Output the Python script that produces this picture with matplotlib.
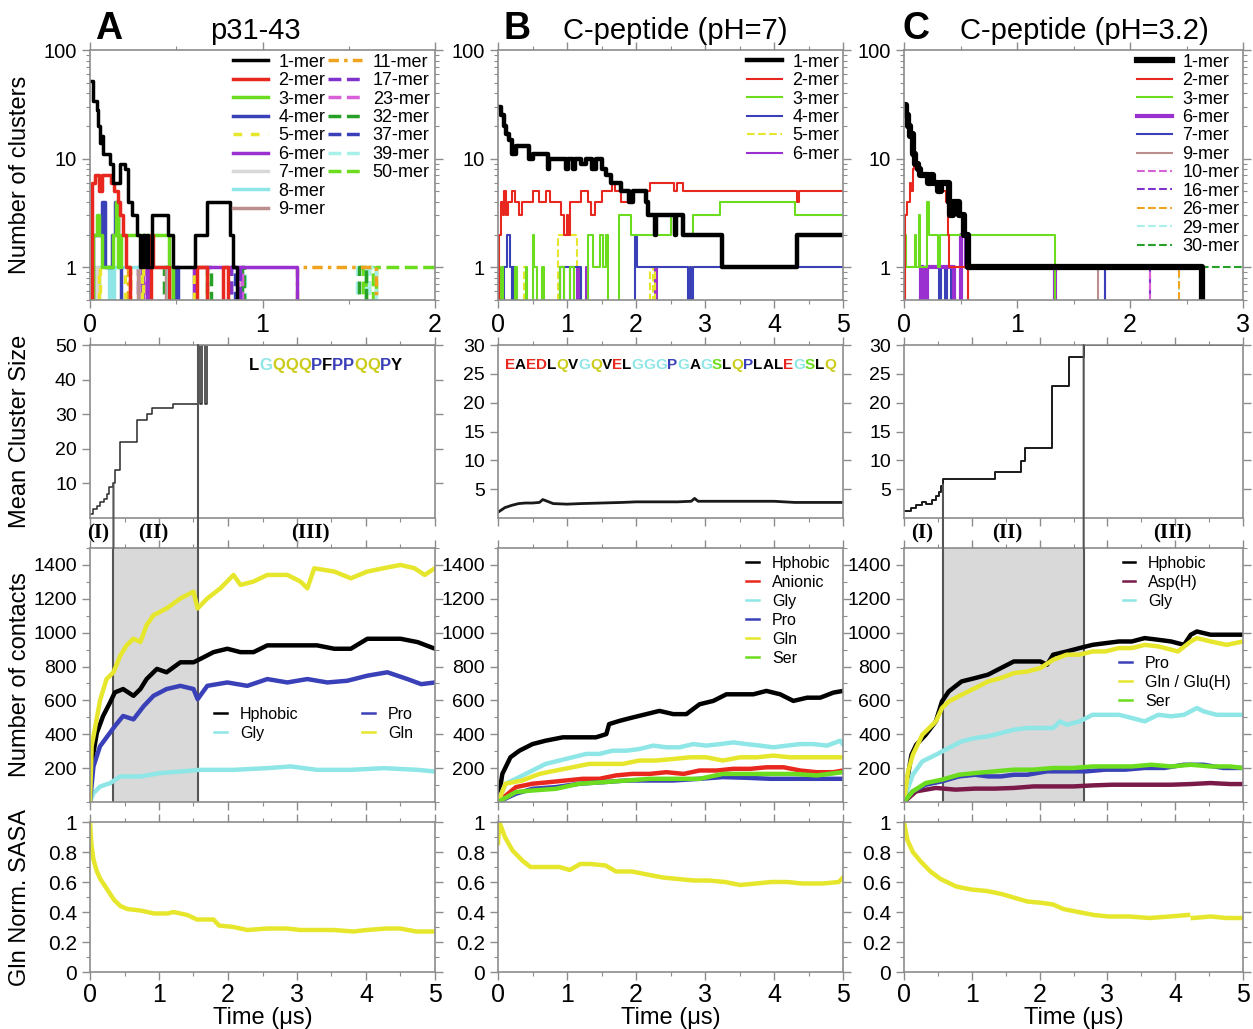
import numpy as np
import matplotlib
matplotlib.use('Agg')
import matplotlib.pyplot as plt
from matplotlib.ticker import MultipleLocator, FuncFormatter, NullFormatter
from matplotlib.patches import ConnectionPatch
from matplotlib.lines import Line2D
from matplotlib.offsetbox import TextArea, HPacker, AnchoredOffsetbox
from matplotlib.transforms import blended_transform_factory

plt.rcParams['font.family'] = ['Liberation Sans', 'DejaVu Sans']
plt.rcParams['axes.linewidth'] = 1.2
plt.rcParams['axes.edgecolor'] = '#8c8c8c'

# colours
K = 'black'
RED = '#e8281e'
GRN = '#6cdc1e'
BLU = '#3a40b8'
YEL = '#e6e62c'
PUR = '#9b30d0'
LGR = '#d8d8d8'
CYN = '#8fe6e6'
BRN = '#bc8f8f'
ORG = '#f0a31e'
PUR2 = '#7f33cc'
MAG = '#d860d8'
DGR = '#26a026'
CYN2 = '#a8f0ea'
MAR = '#7a1a48'
SEQ_YEL = '#cccc1c'
EDGE = '#8c8c8c'
BND = '#555555'

# ---------------- row 1 : number of clusters (step data, time in us) ----------------
# p31-43
A1_t = [0, 0.019, 0.039, 0.048, 0.058, 0.068, 0.077, 0.097, 0.116, 0.135, 0.164, 0.174, 0.203, 0.222, 0.242, 0.271,
        0.29, 0.309, 0.319, 0.329, 0.338, 0.357, 0.444, 0.454, 0.483, 0.599, 0.609, 0.676, 0.792, 0.812, 0.831, 0.85]
A1_v = [52, 34, 28, 20, 14, 16, 11, 11, 9, 6, 6, 9, 8, 4, 3, 2, 1, 2, 1, 2, 1, 3, 3, 2, 1, 1, 2, 4, 4, 2, 1, 0]
A2_t = [0, 0.01, 0.03, 0.05, 0.07, 0.1, 0.12, 0.14, 0.16, 0.175, 0.19, 0.21, 0.23, 0.355, 0.365, 0.44, 0.46, 0.62, 0.676, 0.77, 0.80]
A2_v = [0, 6, 7, 5, 7, 7, 6, 5, 4, 3, 2, 1, 0, 2, 1, 1, 0, 1, 0, 1, 0]
A3_t = [0, 0.02, 0.04, 0.055, 0.07, 0.12, 0.135, 0.15, 0.165, 0.18, 0.45, 0.46, 0.48]
A3_v = [0, 2, 3, 2, 1, 1, 2, 4, 1, 2, 2, 1, 0]
A4_t = [0, 0.02, 0.06, 0.07, 0.085, 0.13, 0.145, 0.16, 0.17, 0.18, 0.5, 0.51]
A4_v = [0, 2, 2, 4, 1, 2, 4, 2, 1, 0, 1, 0]
A5_t = [0, 0.05, 0.06, 0.2, 0.23, 0.3, 0.31, 0.46, 0.48, 0.6, 0.68]
A5_v = [0, 1, 0, 1, 0, 1, 0, 1, 0, 1, 0]
A6_t = [0, 0.3, 0.31, 0.33, 0.345, 0.6, 1.2]
A6_v = [0, 1, 0, 1, 0, 1, 0]
A7_t = [0, 0.03, 0.04, 0.47, 0.6]
A7_v = [0, 1, 0, 1, 0]
A8_t = [0, 0.04, 0.05, 0.11, 0.13, 0.14, 0.45]
A8_v = [0, 1, 0, 1, 0, 1, 0]
A9_t = [0, 0.28, 0.3, 0.44, 0.46]
A9_v = [0, 1, 0, 1, 0]
A11_t = [0, 0.22, 0.23, 1.2, 1.66]
A11_v = [0, 1, 0, 1, 0]
A17_t = [0, 0.28, 0.3, 0.82, 0.87]
A17_v = [0, 1, 0, 1, 0]
A23_t = [0, 0.32, 0.34, 0.86, 0.88]
A23_v = [0, 1, 0, 1, 0]
A32_t = [0, 0.43, 0.45, 0.68, 0.7, 0.88, 0.89, 1.56, 1.6]
A32_v = [0, 1, 0, 1, 0, 1, 0, 1, 0]
A37_t = [0, 0.45, 0.47, 0.82, 0.84]
A37_v = [0, 1, 0, 1, 0]
A39_t = [0, 0.88, 0.9, 1.55, 1.6, 1.62, 1.66]
A39_v = [0, 1, 0, 1, 0, 1, 0]
A50_t = [0, 1.58, 1.6, 1.62, 1.64, 1.66, 5.0]
A50_v = [0, 1, 0, 1, 0, 1, 1]

# C-peptide pH 7
B1_t = [0, 0.05, 0.087, 0.12, 0.16, 0.21, 0.26, 0.45, 0.5, 0.72, 0.74, 0.98, 1.02, 1.08, 1.12, 1.2, 1.28, 1.36, 1.42,
        1.5, 1.57, 1.64, 1.78, 1.9, 1.95, 2.15, 2.18, 2.27, 2.29, 2.56, 2.58, 2.68, 3.24, 4.33, 5.0]
B1_v = [30, 25, 20, 17, 15, 11, 13, 10, 11, 8, 10, 8, 10, 8, 10, 9, 10, 8, 10, 8, 7, 6, 5, 4, 5, 4, 3, 2, 3, 2, 3, 2, 1, 2, 2]
B2_t = [0, 0.02, 0.04, 0.07, 0.09, 0.12, 0.15, 0.2, 0.24, 0.3, 0.35, 0.5, 0.6, 0.7, 0.75, 0.92, 0.95, 1.0, 1.02, 1.05,
        1.2, 1.3, 1.35, 1.4, 1.5, 1.65, 1.7, 1.78, 1.95, 2.2, 2.55, 2.6, 2.68, 4.33, 4.36, 5.0]
B2_v = [0, 2, 4, 3, 5, 3, 4, 5, 4, 3, 4, 5, 4, 5, 4, 3, 2, 3, 2, 4, 5, 4, 3, 4, 5, 6, 5, 4, 5, 6, 5, 6, 5, 4, 5, 5]
B3_t = [0, 0.05, 0.07, 0.25, 0.27, 0.4, 0.42, 0.5, 0.52, 0.56, 0.64, 0.66, 0.9, 0.96, 1.05, 1.1, 1.3, 1.38, 1.48, 1.52,
        1.56, 1.6, 1.75, 1.93, 2.5, 2.55, 2.6, 2.7, 2.83, 3.22, 4.31, 5.0]
B3_v = [0, 1, 0, 1, 0, 1, 0, 2, 1, 0, 1, 0, 1, 0, 1, 0, 2, 1, 2, 1, 2, 0, 3, 2, 3, 2, 3, 2, 3, 4, 3, 3]
B4_t = [0, 0.08, 0.13, 0.18, 0.2, 0.22, 0.24, 0.9, 1.2, 1.98, 2.02, 2.2, 2.75, 2.78, 2.8, 2.83, 5.0]
B4_v = [0, 1, 2, 1, 0, 1, 0, 1, 0, 2, 1, 1, 0, 1, 0, 1, 1]
B5_t = [0, 0.38, 0.4, 0.87, 1.15, 1.2, 2.2, 2.24, 2.28, 5.0]
B5_v = [0, 1, 0, 2, 1, 0, 1, 0, 1, 1]
B6_t = [0, 0.2, 0.22, 0.9, 0.95, 1.05, 1.1, 1.15, 1.17, 1.27, 1.3, 2.27, 2.3]
B6_v = [0, 1, 0, 1, 0, 1, 0, 1, 0, 1, 0, 1, 0]

# C-peptide pH 3.2
C1_t = [0, 0.02, 0.035, 0.05, 0.065, 0.08, 0.093, 0.12, 0.14, 0.21, 0.24, 0.26, 0.3, 0.33, 0.4, 0.41, 0.43, 0.485, 0.53, 0.57, 2.64]
C1_v = [31, 25, 20, 16, 17, 11, 9, 8, 7, 6, 7, 6, 5, 6, 4, 3, 4, 3, 2, 1, 0]
C2_t = [0, 0.01, 0.03, 0.05, 0.065, 0.08, 0.09, 0.12, 0.14, 0.21, 0.24, 0.26, 0.3, 0.37, 0.39, 0.4, 0.57]
C2_v = [0, 3, 4, 6, 5, 8, 9, 8, 7, 6, 7, 6, 5, 4, 2, 1, 0]
C3_t = [0, 0.01, 0.02, 0.1, 0.11, 0.13, 0.145, 0.2, 0.22, 0.3, 0.32, 1.34]
C3_v = [0, 2, 1, 2, 1, 3, 1, 4, 2, 1, 2, 0]
C6_t = [0, 0.15, 0.17, 0.2, 0.44, 0.5, 0.55, 1.34]
C6_v = [0, 1, 0, 1, 0, 2, 1, 0]
C7_t = [0, 0.31, 0.33, 0.36, 0.38, 0.42, 0.44, 0.5, 0.56, 1.78]
C7_v = [0, 1, 0, 1, 0, 1, 0, 2, 1, 0]
C9_t = [0, 1.34, 1.72]
C9_v = [0, 1, 0]
C10_t = [0, 0.57, 2.18]
C10_v = [0, 1, 0]
C16_t = [0, 1.78, 2.18]
C16_v = [0, 1, 0]
C26_t = [0, 2.18, 2.43]
C26_v = [0, 1, 0]
C29_t = [0, 2.43, 2.64]
C29_v = [0, 1, 0]
C30_t = [0, 2.64, 5.0]
C30_v = [0, 1, 1]

# ---------------- row 2 : mean cluster size ----------------
A_mcs_t = [0, 0.05, 0.1, 0.15, 0.2, 0.25, 0.28, 0.33, 0.36, 0.44, 0.68, 0.82, 0.9, 1.21, 1.565, 1.6, 1.63, 1.665, 1.69, 5.0]
A_mcs = [1.2, 2.5, 3.5, 4.5, 5.5, 7, 9, 10, 13.8, 22, 28.3, 30, 31.8, 33, 50, 33, 50, 33, 50, 50]
B_mcs_t = [0, 0.1, 0.2, 0.3, 0.4, 0.5, 0.6, 0.65, 0.8, 1.0, 1.2, 1.5, 1.8, 2.0, 2.3, 2.6, 2.8, 2.85, 2.9, 3.2, 3.5, 4.0, 4.3, 4.5, 5.0]
B_mcs = [1, 1.8, 2.2, 2.5, 2.6, 2.6, 2.7, 3.2, 2.5, 2.4, 2.5, 2.6, 2.7, 2.8, 2.8, 2.8, 2.9, 3.4, 2.9, 2.9, 2.9, 2.9, 2.7, 2.7, 2.7]
C_mcs_t = [0, 0.1, 0.18, 0.27, 0.32, 0.42, 0.47, 0.52, 0.55, 0.575, 1.34, 1.73, 1.78, 2.18, 2.43, 2.65, 5.0]
C_mcs = [1.2, 1.7, 2.2, 2.8, 2.5, 3.2, 3.8, 4.5, 5.5, 6.8, 8, 9.8, 12.2, 22.9, 28, 30, 30]

# phase boundaries (us) and the mean cluster size where the boundary line starts
A_phase = [0.34, 1.565]
A_phase_top = [10, 50]
C_phase = [0.575, 2.65]
C_phase_top = [5.8, 30]

# ---------------- row 3 : number of contacts ----------------
A_gln_t = [0, 0.024, 0.07, 0.145, 0.24, 0.34, 0.44, 0.53, 0.63, 0.73, 0.82, 0.92, 1.11, 1.31, 1.5, 1.56, 1.7, 1.89, 2.08,
           2.18, 2.37, 2.57, 2.86, 3.05, 3.15, 3.25, 3.54, 3.78, 4.02, 4.26, 4.5, 4.7, 4.85, 5.0]
A_gln = [0, 330, 430, 600, 726, 766, 865, 925, 964, 945, 1044, 1103, 1143, 1202, 1242, 1143, 1202, 1262, 1341,
         1282, 1302, 1341, 1341, 1302, 1262, 1380, 1361, 1321, 1361, 1381, 1400, 1381, 1341, 1381]
A_hp_t = [0, 0.024, 0.1, 0.19, 0.29, 0.36, 0.48, 0.63, 0.73, 0.82, 0.97, 1.11, 1.31, 1.5, 1.6, 1.79, 1.99, 2.18, 2.37,
          2.57, 2.81, 3.05, 3.29, 3.54, 3.78, 4.02, 4.26, 4.5, 4.75, 5.0]
A_hp = [0, 230, 409, 508, 587, 647, 667, 627, 667, 726, 786, 766, 825, 825, 845, 885, 905, 885, 885,
        925, 925, 925, 925, 905, 905, 964, 964, 964, 944, 905]
A_pro_t = [0, 0.05, 0.145, 0.29, 0.36, 0.48, 0.63, 0.78, 0.92, 1.11, 1.31, 1.5, 1.56, 1.7, 1.99, 2.28, 2.57, 2.86, 3.15,
           3.44, 3.73, 4.02, 4.31, 4.6, 4.8, 5.0]
A_pro = [0, 210, 329, 409, 448, 508, 488, 567, 627, 667, 686, 667, 607, 686, 706, 686, 726, 706, 726,
         706, 716, 746, 766, 726, 696, 706]
A_gly_t = [0, 0.05, 0.145, 0.29, 0.44, 0.73, 1.02, 1.31, 1.6, 2.08, 2.57, 2.91, 3.29, 3.78, 4.26, 4.75, 5.0]
A_gly = [0, 52, 91, 111, 151, 151, 171, 180, 190, 190, 200, 210, 190, 190, 200, 190, 180]

B_hp_t = [0, 0.063, 0.11, 0.18, 0.31, 0.5, 0.69, 0.94, 1.18, 1.42, 1.57, 1.61, 1.76, 1.95, 2.15, 2.34, 2.54, 2.73, 2.92,
          3.12, 3.31, 3.51, 3.7, 3.89, 4.09, 4.28, 4.48, 4.67, 4.86, 5.0]
B_hp = [0, 166, 205, 264, 303, 342, 362, 382, 382, 382, 401, 460, 479, 499, 519, 538, 519, 519, 577,
        597, 636, 636, 636, 656, 636, 597, 616, 616, 646, 656]
B_gly_t = [0, 0.11, 0.31, 0.5, 0.69, 0.89, 1.08, 1.28, 1.47, 1.66, 1.86, 2.05, 2.25, 2.44, 2.63, 2.83, 3.02, 3.22, 3.41,
           3.6, 3.8, 3.99, 4.19, 4.38, 4.57, 4.77, 4.96, 5.0]
B_gly = [0, 108, 147, 186, 225, 245, 264, 284, 284, 303, 303, 313, 333, 323, 323, 342, 333, 342, 352,
         342, 333, 323, 333, 342, 342, 333, 362, 340]
B_gln_t = [0, 0.11, 0.35, 0.6, 0.84, 1.08, 1.32, 1.57, 1.81, 2.05, 2.29, 2.54, 2.78, 3.02, 3.26, 3.51, 3.75, 3.99, 4.23,
           4.48, 4.72, 5.0]
B_gln = [0, 108, 127, 166, 186, 205, 225, 225, 225, 245, 245, 254, 264, 264, 245, 264, 264, 274, 264, 264, 264, 264]
B_ani_t = [0, 0.26, 0.5, 0.74, 0.98, 1.23, 1.47, 1.71, 1.95, 2.2, 2.44, 2.69, 2.92, 3.17, 3.41, 3.66, 3.89, 4.14, 4.38,
           4.62, 4.86, 5.0]
B_ani = [0, 88, 108, 117, 127, 137, 137, 157, 166, 166, 176, 166, 186, 186, 196, 196, 205, 205, 186, 176, 176, 186]
B_pro_t = [0, 0.26, 0.5, 0.84, 1.18, 1.52, 1.86, 2.2, 2.54, 2.92, 3.26, 3.6, 3.94, 4.28, 4.62, 5.0]
B_pro = [0, 49, 78, 88, 108, 117, 127, 127, 127, 137, 147, 143, 137, 137, 137, 137]
B_ser_t = [0, 0.26, 0.5, 0.84, 1.18, 1.52, 1.86, 2.2, 2.54, 2.92, 3.26, 3.6, 3.94, 4.28, 4.62, 5.0]
B_ser = [0, 59, 68, 78, 108, 117, 127, 137, 137, 137, 166, 166, 166, 166, 157, 176]

C_hp_t = [0, 0.06, 0.11, 0.18, 0.32, 0.47, 0.56, 0.66, 0.85, 1.05, 1.24, 1.43, 1.62, 1.82, 2.01, 2.11, 2.2, 2.4, 2.59,
          2.78, 2.97, 3.17, 3.36, 3.55, 3.75, 3.94, 4.13, 4.23, 4.32, 4.52, 4.71, 5.0]
C_hp = [0, 161, 279, 338, 397, 476, 594, 653, 712, 732, 752, 791, 830, 830, 830, 811, 870, 889, 909,
        928, 938, 948, 948, 968, 958, 948, 928, 988, 1007, 988, 988, 988]
C_gln_t = [0, 0.06, 0.13, 0.27, 0.47, 0.56, 0.66, 0.85, 1.05, 1.24, 1.43, 1.62, 1.82, 2.01, 2.2, 2.4, 2.59, 2.78, 2.97,
           3.17, 3.36, 3.55, 3.75, 4.04, 4.23, 4.32, 4.52, 4.76, 5.0]
C_gln = [0, 181, 279, 397, 476, 555, 594, 633, 673, 712, 732, 761, 771, 791, 840, 870, 870, 889, 889,
         909, 909, 928, 919, 889, 948, 968, 948, 928, 948]
C_gly_t = [0, 0.06, 0.13, 0.27, 0.47, 0.66, 0.85, 1.05, 1.24, 1.43, 1.62, 1.82, 2.01, 2.2, 2.3, 2.4, 2.59, 2.78, 2.97,
           3.17, 3.36, 3.55, 3.75, 3.94, 4.13, 4.32, 4.42, 4.61, 4.81, 5.0]
C_gly = [0, 83, 161, 240, 279, 319, 358, 378, 388, 407, 427, 437, 437, 437, 476, 456, 476, 515, 515,
         515, 496, 476, 515, 506, 515, 555, 535, 515, 515, 515]
C_pro_t = [0, 0.13, 0.32, 0.56, 0.81, 1.05, 1.24, 1.43, 1.62, 1.82, 2.11, 2.4, 2.69, 2.97, 3.26, 3.55, 3.84, 4.13, 4.42, 4.71, 5.0]
C_pro = [0, 63, 102, 122, 151, 161, 151, 151, 161, 161, 181, 181, 181, 191, 191, 201, 201, 220, 220, 201, 201]
C_ser_t = [0, 0.13, 0.32, 0.56, 0.81, 1.05, 1.34, 1.62, 1.91, 2.2, 2.5, 2.78, 3.07, 3.36, 3.65, 3.94, 4.23, 4.52, 4.81, 5.0]
C_ser = [0, 63, 112, 132, 161, 171, 181, 191, 191, 201, 201, 210, 210, 210, 220, 210, 220, 210, 210, 201]
C_asp_t = [0, 0.18, 0.47, 0.76, 1.05, 1.34, 1.62, 1.91, 2.2, 2.5, 2.78, 3.07, 3.36, 3.65, 3.94, 4.23, 4.52, 4.81, 5.0]
C_asp = [0, 63, 83, 73, 79, 79, 83, 92, 92, 92, 98, 102, 102, 102, 102, 106, 112, 106, 106]

# ---------------- row 4 : Gln normalised SASA ----------------
A_sasa_t = [0, 0.02, 0.05, 0.1, 0.15, 0.25, 0.35, 0.44, 0.54, 0.73, 0.93, 1.12, 1.21, 1.41, 1.55, 1.79, 1.87, 2.08, 2.28,
            2.57, 2.85, 3.05, 3.34, 3.53, 3.82, 4.01, 4.3, 4.49, 4.73, 5.0]
A_sasa = [1.0, 0.85, 0.75, 0.67, 0.62, 0.55, 0.48, 0.44, 0.42, 0.41, 0.39, 0.39, 0.40, 0.38, 0.35, 0.35, 0.31, 0.30, 0.28,
          0.29, 0.29, 0.28, 0.28, 0.28, 0.27, 0.28, 0.29, 0.29, 0.27, 0.27]
B_sasa_t = [0, 0.02, 0.1, 0.21, 0.36, 0.47, 0.66, 0.89, 1.04, 1.19, 1.34, 1.56, 1.71, 1.94, 2.16, 2.39, 2.61, 2.84, 3.06,
            3.29, 3.51, 3.74, 3.96, 4.19, 4.41, 4.71, 4.94, 5.0]
B_sasa = [0.86, 1.0, 0.9, 0.81, 0.74, 0.70, 0.70, 0.70, 0.68, 0.72, 0.72, 0.71, 0.67, 0.67, 0.65, 0.63, 0.62, 0.61, 0.61,
          0.60, 0.58, 0.59, 0.60, 0.60, 0.59, 0.59, 0.60, 0.63]
C_sasa_t = [0, 0.05, 0.13, 0.24, 0.39, 0.54, 0.77, 0.99, 1.22, 1.44, 1.59, 1.82, 2.05, 2.2, 2.35, 2.57, 2.8, 3.02, 3.32,
            3.62, 3.92, 4.19, 4.22, 4.26, 4.53, 4.75, 5.0]
C_sasa = [1.0, 0.88, 0.80, 0.74, 0.67, 0.62, 0.57, 0.55, 0.54, 0.52, 0.50, 0.47, 0.46, 0.45, 0.42, 0.40, 0.38, 0.37, 0.37,
          0.36, 0.37, 0.38, np.nan, 0.36, 0.37, 0.36, 0.36]

# sequences
SEQ_A = 'LGQQQPFPPQQPY'
SEQ_B = 'EAEDLQVGQVELGGGPGAGSLQPLALEGSLQ'
RES_COL = {'L': K, 'G': CYN, 'Q': SEQ_YEL, 'P': BLU, 'F': K, 'Y': K, 'E': RED, 'D': RED,
           'A': K, 'V': K, 'S': GRN}

# ---------------- figure ----------------
fig = plt.figure(figsize=(12.53, 10.29), dpi=100)
W, H = 1253., 1029.
COLS = [(90, 435), (498, 843), (904, 1243)]
ROWS = [(50, 300), (345, 518), (548, 802), (822, 972)]
gfmt = FuncFormatter(lambda v, p: '%g' % v)


def panel(c, r):
    x0, x1 = COLS[c]
    y0, y1 = ROWS[r]
    ax = fig.add_axes([x0 / W, 1 - y1 / H, (x1 - x0) / W, (y1 - y0) / H])
    ax.tick_params(which='both', direction='out', top=True, right=True, color=EDGE)
    ax.tick_params(which='major', length=6, width=1)
    ax.tick_params(which='minor', length=3, width=0.8)
    return ax


# ---- row 1
top = [panel(c, 0) for c in range(3)]
for ax, xm in zip(top, [2, 5, 3]):
    ax.set_yscale('log')
    ax.set_xlim(0, xm)
    ax.set_ylim(0.5, 100)
    ax.yaxis.set_major_formatter(gfmt)
    ax.yaxis.set_minor_formatter(NullFormatter())
    ax.xaxis.set_major_locator(MultipleLocator(1))
    ax.xaxis.set_minor_locator(MultipleLocator(0.5))
    ax.tick_params(axis='y', labelsize=14.5)
    ax.tick_params(axis='x', labelsize=18)

A_series = [('1-mer', A1_t, A1_v, K, '-'), ('2-mer', A2_t, A2_v, RED, '-'), ('3-mer', A3_t, A3_v, GRN, '-'),
            ('4-mer', A4_t, A4_v, BLU, '-'), ('5-mer', A5_t, A5_v, YEL, (0, (2.5, 2.5))),
            ('6-mer', A6_t, A6_v, PUR, '-'), ('7-mer', A7_t, A7_v, LGR, '-'), ('8-mer', A8_t, A8_v, CYN, '-'),
            ('9-mer', A9_t, A9_v, BRN, '-'), ('11-mer', A11_t, A11_v, ORG, (0, (3, 1.5, 1, 1.5))),
            ('17-mer', A17_t, A17_v, PUR2, '--'), ('23-mer', A23_t, A23_v, MAG, '--'),
            ('32-mer', A32_t, A32_v, DGR, '--'), ('37-mer', A37_t, A37_v, BLU, '--'),
            ('39-mer', A39_t, A39_v, CYN2, '--'), ('50-mer', A50_t, A50_v, GRN, '--')]
B_series = [('1-mer', B1_t, B1_v, K, '-', 3.2), ('2-mer', B2_t, B2_v, RED, '-', 1.5), ('3-mer', B3_t, B3_v, GRN, '-', 1.5),
            ('4-mer', B4_t, B4_v, BLU, '-', 1.5), ('5-mer', B5_t, B5_v, YEL, '--', 1.5), ('6-mer', B6_t, B6_v, PUR, '-', 1.5)]
C_series = [('1-mer', C1_t, C1_v, K, '-', 4.5), ('2-mer', C2_t, C2_v, RED, '-', 1.5), ('3-mer', C3_t, C3_v, GRN, '-', 1.5),
            ('6-mer', C6_t, C6_v, PUR, '-', 3.0), ('7-mer', C7_t, C7_v, BLU, '-', 1.5), ('9-mer', C9_t, C9_v, BRN, '-', 1.5),
            ('10-mer', C10_t, C10_v, MAG, '--', 1.5), ('16-mer', C16_t, C16_v, PUR2, '--', 1.5),
            ('26-mer', C26_t, C26_v, ORG, '--', 1.5), ('29-mer', C29_t, C29_v, CYN2, '--', 1.5),
            ('30-mer', C30_t, C30_v, DGR, '--', 1.5)]

leg_kw = dict(frameon=False, fontsize=13, handlelength=1.9, labelspacing=0.08, handletextpad=0.6,
              borderaxespad=0, borderpad=0.2)

hA = [None] * len(A_series)
for i in range(len(A_series) - 1, -1, -1):
    lab, t, v, col, ls = A_series[i]
    hA[i], = top[0].plot(t, v, drawstyle='steps-post', color=col, lw=2.5, ls=ls, label=lab)
leg1 = top[0].legend(handles=hA[:9], loc='upper left', bbox_to_anchor=(0.405, 1.0), **leg_kw)
top[0].add_artist(leg1)
top[0].legend(handles=hA[9:], loc='upper right', bbox_to_anchor=(0.995, 1.0), **leg_kw)

for ax, series in [(top[1], B_series), (top[2], C_series)]:
    hs = [None] * len(series)
    for i in range(len(series) - 1, -1, -1):
        lab, t, v, col, ls, lw = series[i]
        hs[i], = ax.plot(t, v, drawstyle='steps-post', color=col, lw=lw, ls=ls, label=lab)
    ax.legend(handles=hs, loc='upper right', bbox_to_anchor=(1.0, 1.0), **leg_kw)

top[0].set_ylabel('Number of clusters', fontsize=17)

# ---- row 2
mid = [panel(c, 1) for c in range(3)]
mid[0].plot(A_mcs_t, A_mcs, drawstyle='steps-post', color='#2a2a2a', lw=1.1)
mid[1].plot(B_mcs_t, B_mcs, color='#1a1a1a', lw=2.0)
mid[2].plot(C_mcs_t, C_mcs, drawstyle='steps-post', color='#1a1a1a', lw=1.4)
mid[0].set_ylim(0, 50)
mid[0].set_yticks([10, 20, 30, 40, 50])
for ax in mid[1:]:
    ax.set_ylim(0, 30)
    ax.set_yticks([5, 10, 15, 20, 25, 30])
for ax in mid:
    ax.set_xlim(0, 5)
    ax.xaxis.set_major_locator(MultipleLocator(1))
    ax.xaxis.set_minor_locator(MultipleLocator(0.5))
    ax.tick_params(axis='x', labelbottom=False)
    ax.tick_params(axis='y', labelsize=14)
mid[0].set_ylabel('Mean Cluster Size', fontsize=17)


def sequence(ax, seq, x, y, size):
    kids = [TextArea(ch, textprops=dict(color=RES_COL[ch], fontsize=size, fontweight='bold')) for ch in seq]
    box = AnchoredOffsetbox(loc='center', child=HPacker(children=kids, align='baseline', pad=0, sep=0),
                            pad=0, borderpad=0, frameon=False, bbox_to_anchor=(x, y),
                            bbox_transform=ax.transAxes)
    ax.add_artist(box)


sequence(mid[0], SEQ_A, 0.683, 0.884, 12)
sequence(mid[1], SEQ_B, 0.5, 0.884, 11)

# ---- row 3
cont = [panel(c, 2) for c in range(3)]
A_cont = [('Hphobic', A_hp_t, A_hp, K), ('Gly', A_gly_t, A_gly, CYN), ('Pro', A_pro_t, A_pro, BLU),
          ('Gln', A_gln_t, A_gln, YEL)]
B_cont = [('Hphobic', B_hp_t, B_hp, K), ('Anionic', B_ani_t, B_ani, RED), ('Gly', B_gly_t, B_gly, CYN),
          ('Pro', B_pro_t, B_pro, BLU), ('Gln', B_gln_t, B_gln, YEL), ('Ser', B_ser_t, B_ser, GRN)]
C_cont = [('Hphobic', C_hp_t, C_hp, K), ('Asp(H)', C_asp_t, C_asp, MAR), ('Gly', C_gly_t, C_gly, CYN),
          ('Pro', C_pro_t, C_pro, BLU), ('Gln / Glu(H)', C_gln_t, C_gln, YEL), ('Ser', C_ser_t, C_ser, GRN)]

cleg = dict(frameon=False, fontsize=11.5, handlelength=0.8, labelspacing=0.25, handletextpad=0.8,
            borderaxespad=0, borderpad=0)
for ax, series in zip(cont, [A_cont, B_cont, C_cont]):
    for lab, t, v, col in series:
        ax.plot(t, v, color=col, lw=3.2)
    ax.set_xlim(0, 5)
    ax.set_ylim(0, 1500)
    ax.set_yticks(range(200, 1401, 200))
    ax.yaxis.set_minor_locator(MultipleLocator(100))
    ax.xaxis.set_major_locator(MultipleLocator(1))
    ax.xaxis.set_minor_locator(MultipleLocator(0.5))
    ax.tick_params(axis='x', labelbottom=False)
    ax.tick_params(axis='y', labelsize=14)


def handles(series):
    return [Line2D([], [], color=col, lw=1.8, label=lab) for lab, t, v, col in series]


cont[0].legend(handles=handles(A_cont), ncol=2, columnspacing=4.0, loc='upper left',
               bbox_to_anchor=(0.36, 0.375), **cleg)
cont[1].legend(handles=handles(B_cont), loc='upper left', bbox_to_anchor=(0.72, 0.97), **cleg)
lc1 = cont[2].legend(handles=handles(C_cont[:3]), loc='upper left', bbox_to_anchor=(0.645, 0.97), **cleg)
cont[2].add_artist(lc1)
cont[2].legend(handles=handles(C_cont[3:]), loc='upper left', bbox_to_anchor=(0.635, 0.575), **cleg)
cont[0].set_ylabel('Number of contacts', fontsize=17)

# phases: shading, boundary lines and labels
for m, c, ph, phtop, labs in [(mid[0], cont[0], A_phase, A_phase_top, [('(I)', 0.12), ('(II)', 0.92), ('(III)', 3.2)]),
                              (mid[2], cont[2], C_phase, C_phase_top, [('(I)', 0.27), ('(II)', 1.52), ('(III)', 3.96)])]:
    c.axvspan(ph[0], ph[1], color='#d9d9d9', zorder=0, lw=0)
    for x, yt in zip(ph, phtop):
        c.axvline(x, color=BND, lw=1.5, zorder=1.5)
        con = ConnectionPatch(xyA=(x, yt), coordsA='data', axesA=m, xyB=(x, 1500), coordsB='data', axesB=c,
                              color=BND, lw=1.5)
        fig.add_artist(con)
    tr = blended_transform_factory(m.transData, m.transAxes)
    for s, x in labs:
        m.text(x, -0.087, s, transform=tr, ha='center', va='center', fontsize=15,
               fontfamily='Liberation Serif', fontweight='bold')

# ---- row 4
sasa = [panel(c, 3) for c in range(3)]
for ax, t, v in zip(sasa, [A_sasa_t, B_sasa_t, C_sasa_t], [A_sasa, B_sasa, C_sasa]):
    ax.plot(t, v, color=YEL, lw=3.2)
    ax.set_xlim(0, 5)
    ax.set_ylim(0, 1)
    ax.yaxis.set_major_locator(MultipleLocator(0.2))
    ax.yaxis.set_minor_locator(MultipleLocator(0.1))
    ax.yaxis.set_major_formatter(gfmt)
    ax.xaxis.set_major_locator(MultipleLocator(1))
    ax.xaxis.set_minor_locator(MultipleLocator(0.5))
    ax.tick_params(axis='y', labelsize=15)
    ax.tick_params(axis='x', labelsize=18, pad=2)
    ax.set_xlabel('Time (μs)', fontsize=17, labelpad=0)
sasa[0].set_ylabel('Gln Norm. SASA', fontsize=17)

for ax in [top[0], mid[0], cont[0], sasa[0]]:
    ax.yaxis.set_label_coords(-0.17, 0.5)

# titles
for x, letter, xc, title in [(95, 'A', 255, 'p31-43'), (503, 'B', 675, 'C-peptide (pH=7)'),
                             (903, 'C', 1084, 'C-peptide (pH=3.2)')]:
    fig.text(x / W, 1 - 29 / H, letter, fontsize=27, fontweight='bold', va='center')
    fig.text(xc / W, 1 - 31 / H, title, fontsize=21, ha='center', va='center')

fig.savefig('out.png', dpi=100)
